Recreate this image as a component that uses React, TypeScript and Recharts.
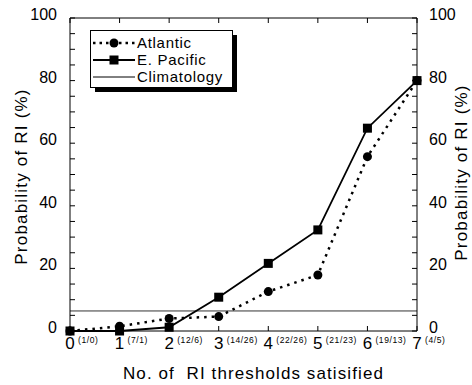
import React from 'react';
import { ComposedChart, Line, XAxis, YAxis, ReferenceLine, Legend } from 'recharts';

const thresholds = [0, 1, 2, 3, 4, 5, 6, 7];
const caseCounts = ['(1/0)', '(7/1)', '(12/6)', '(14/26)', '(22/26)', '(21/23)', '(19/13)', '(4/5)'];
const atlantic = [0, 1.5, 4, 4.6, 12.6, 17.9, 55.7, 80];
const ePacific = [0, 0, 1.2, 10.8, 21.6, 32.3, 64.8, 80];
const climatology = 6.4;
const yTicks = [0, 5, 10, 15, 20, 25, 30, 35, 40, 45, 50, 55, 60, 65, 70, 75, 80, 85, 90, 95, 100];
const yLabelStep = 20;
const xTitle = 'No. of  RI thresholds satisified';
const yTitle = 'Probability of RI (%)';
const seriesNames = ['Atlantic', 'E. Pacific', 'Climatology'];

const data = thresholds.map((t, i) => ({ x: t, atlantic: atlantic[i], ePacific: ePacific[i] }));

const FONT = '"Liberation Sans", Arial, Helvetica, sans-serif';

const BottomTick = (props: any) => {
  const { x, y, payload } = props;
  const v = payload.value as number;
  return (
    <g>
      <line x1={x} x2={x} y1={y} y2={y - 5} stroke="#000" strokeWidth={1} />
      <text x={x} y={y + 18} textAnchor="middle" fontSize={17} fontFamily={FONT} fill="#000">
        {String(v)}
      </text>
      <text x={x + 8} y={y + 12} textAnchor="start" fontSize={8.5} letterSpacing={0.6} fontFamily={FONT} fill="#000">
        {caseCounts[v]}
      </text>
    </g>
  );
};

const TopTick = (props: any) => {
  const { x, y } = props;
  return <line x1={x} x2={x} y1={y} y2={y + 5} stroke="#000" strokeWidth={1} />;
};

const LeftTick = (props: any) => {
  const { x, y, payload } = props;
  const v = payload.value as number;
  return (
    <g>
      <line x1={x} x2={x + 5} y1={y} y2={y} stroke="#000" strokeWidth={1} />
      {v % yLabelStep === 0 && (
        <text x={x - 13} y={y + 2} textAnchor="end" fontSize={16} fontFamily={FONT} fill="#000">
          {String(v)}
        </text>
      )}
    </g>
  );
};

const RightTick = (props: any) => {
  const { x, y, payload } = props;
  const v = payload.value as number;
  return (
    <g>
      <line x1={x} x2={x - 5} y1={y} y2={y} stroke="#000" strokeWidth={1} />
      {v % yLabelStep === 0 && (
        <text x={x + 12} y={y + 2} textAnchor="start" fontSize={16} fontFamily={FONT} fill="#000">
          {String(v)}
        </text>
      )}
    </g>
  );
};

const XTitle = (props: any) => {
  const vb = props.viewBox || { x: 70, y: 331, width: 347, height: 54 };
  const cx = vb.x + vb.width / 2 + 10;
  const cy = vb.y + 48;
  return (
    <text
      x={cx}
      y={cy}
      textAnchor="middle"
      fontSize={17}
      letterSpacing={1.1}
      fontFamily={FONT}
      fill="#000"
      style={{ whiteSpace: 'pre' }}
    >
      {xTitle}
    </text>
  );
};

const YTitleLeft = (props: any) => {
  const vb = props.viewBox || { x: 0, y: 18, width: 70, height: 313 };
  const cx = vb.x + 21;
  const cy = vb.y + vb.height / 2 + 2;
  return (
    <text
      x={cx}
      y={cy}
      transform={`rotate(-90 ${cx} ${cy})`}
      textAnchor="middle"
      dominantBaseline="central"
      fontSize={17}
      letterSpacing={1.2}
      fontFamily={FONT}
      fill="#000"
    >
      {yTitle}
    </text>
  );
};

const YTitleRight = (props: any) => {
  const vb = props.viewBox || { x: 417, y: 18, width: 55, height: 313 };
  const cx = vb.x + 44;
  const cy = vb.y + vb.height / 2 - 2;
  return (
    <text
      x={cx}
      y={cy}
      transform={`rotate(-90 ${cx} ${cy})`}
      textAnchor="middle"
      dominantBaseline="central"
      fontSize={17}
      letterSpacing={1.2}
      fontFamily={FONT}
      fill="#000"
    >
      {yTitle}
    </text>
  );
};

const SquareDot = (props: any) => {
  const { cx, cy, index } = props;
  if (cx == null || cy == null) return <g key={`sq-${index}`} />;
  return <rect key={`sq-${index}`} x={cx - 4.5} y={cy - 4.5} width={9} height={9} fill="#000" />;
};

const LegendBox = () => {
  const w = 142;
  const h = 57;
  const rows = [13, 30, 47];
  const baselines = [18, 35, 52];
  return (
    <svg width={150} height={64} style={{ display: 'block', overflow: 'visible' }}>
      <rect x={5} y={5} width={w} height={h} fill="#000" />
      <rect x={0.5} y={0.5} width={w} height={h} fill="#fff" stroke="#000" strokeWidth={1} />
      <line x1={3} x2={45} y1={rows[0]} y2={rows[0]} stroke="#000" strokeWidth={2.5} strokeDasharray="2.5 4" />
      <circle cx={24} cy={rows[0]} r={4.5} fill="#000" />
      <line x1={3} x2={45} y1={rows[1]} y2={rows[1]} stroke="#000" strokeWidth={2} />
      <rect x={19.5} y={rows[1] - 4.5} width={9} height={9} fill="#000" />
      <line x1={3} x2={45} y1={rows[2]} y2={rows[2]} stroke="#000" strokeWidth={1} />
      {seriesNames.map((n, i) => (
        <text key={n} x={47} y={baselines[i]} fontSize={15} letterSpacing={0.7} fontFamily={FONT} fill="#000">
          {n}
        </text>
      ))}
    </svg>
  );
};

export default function App() {
  return (
    <div style={{ position: 'absolute', left: 0, top: 0, width: 472, height: 385, background: '#fff' }}>
      <ComposedChart width={472} height={385} data={data} margin={{ top: 0, right: 0, bottom: 0, left: 0 }}>
        <XAxis
          xAxisId="bottom"
          dataKey="x"
          type="number"
          domain={[0, 7]}
          ticks={thresholds}
          interval={0}
          height={54}
          tickSize={0}
          tickMargin={0}
          tickLine={false}
          axisLine={{ stroke: '#000', strokeWidth: 1 }}
          tick={<BottomTick />}
          label={(p: any) => <XTitle {...p} />}
        />
        <XAxis
          xAxisId="top"
          orientation="top"
          dataKey="x"
          type="number"
          domain={[0, 7]}
          ticks={thresholds}
          interval={0}
          height={18}
          tickSize={0}
          tickMargin={0}
          tickLine={false}
          axisLine={{ stroke: '#000', strokeWidth: 1 }}
          tick={<TopTick />}
        />
        <YAxis
          yAxisId="left"
          type="number"
          domain={[0, 100]}
          ticks={yTicks}
          interval={0}
          width={70}
          tickSize={0}
          tickMargin={0}
          tickLine={false}
          axisLine={{ stroke: '#000', strokeWidth: 1 }}
          tick={<LeftTick />}
          label={(p: any) => <YTitleLeft {...p} />}
        />
        <YAxis
          yAxisId="right"
          orientation="right"
          type="number"
          domain={[0, 100]}
          ticks={yTicks}
          interval={0}
          width={55}
          tickSize={0}
          tickMargin={0}
          tickLine={false}
          axisLine={{ stroke: '#000', strokeWidth: 1 }}
          tick={<RightTick />}
          label={(p: any) => <YTitleRight {...p} />}
        />
        <ReferenceLine xAxisId="bottom" yAxisId="left" y={climatology} stroke="#333" strokeWidth={1} />
        <Line
          xAxisId="bottom"
          yAxisId="left"
          type="linear"
          dataKey="ePacific"
          name="E. Pacific"
          stroke="#000"
          strokeWidth={1.8}
          dot={(p: any) => <SquareDot {...p} key={`sq-${p.index}`} />}
          activeDot={false}
          isAnimationActive={false}
        />
        <Line
          xAxisId="top"
          yAxisId="right"
          type="linear"
          dataKey="atlantic"
          name="Atlantic"
          stroke="#000"
          strokeWidth={2.5}
          strokeDasharray="2.5 5"
          dot={{ r: 4.5, fill: '#000', stroke: 'none', strokeWidth: 0 }}
          activeDot={false}
          isAnimationActive={false}
        />
        <Legend
          layout="vertical"
          align="center"
          verticalAlign="middle"
          content={() => <LegendBox />}
          wrapperStyle={{ left: 90, top: 30, width: 150, height: 64 }}
        />
      </ComposedChart>
    </div>
  );
}
